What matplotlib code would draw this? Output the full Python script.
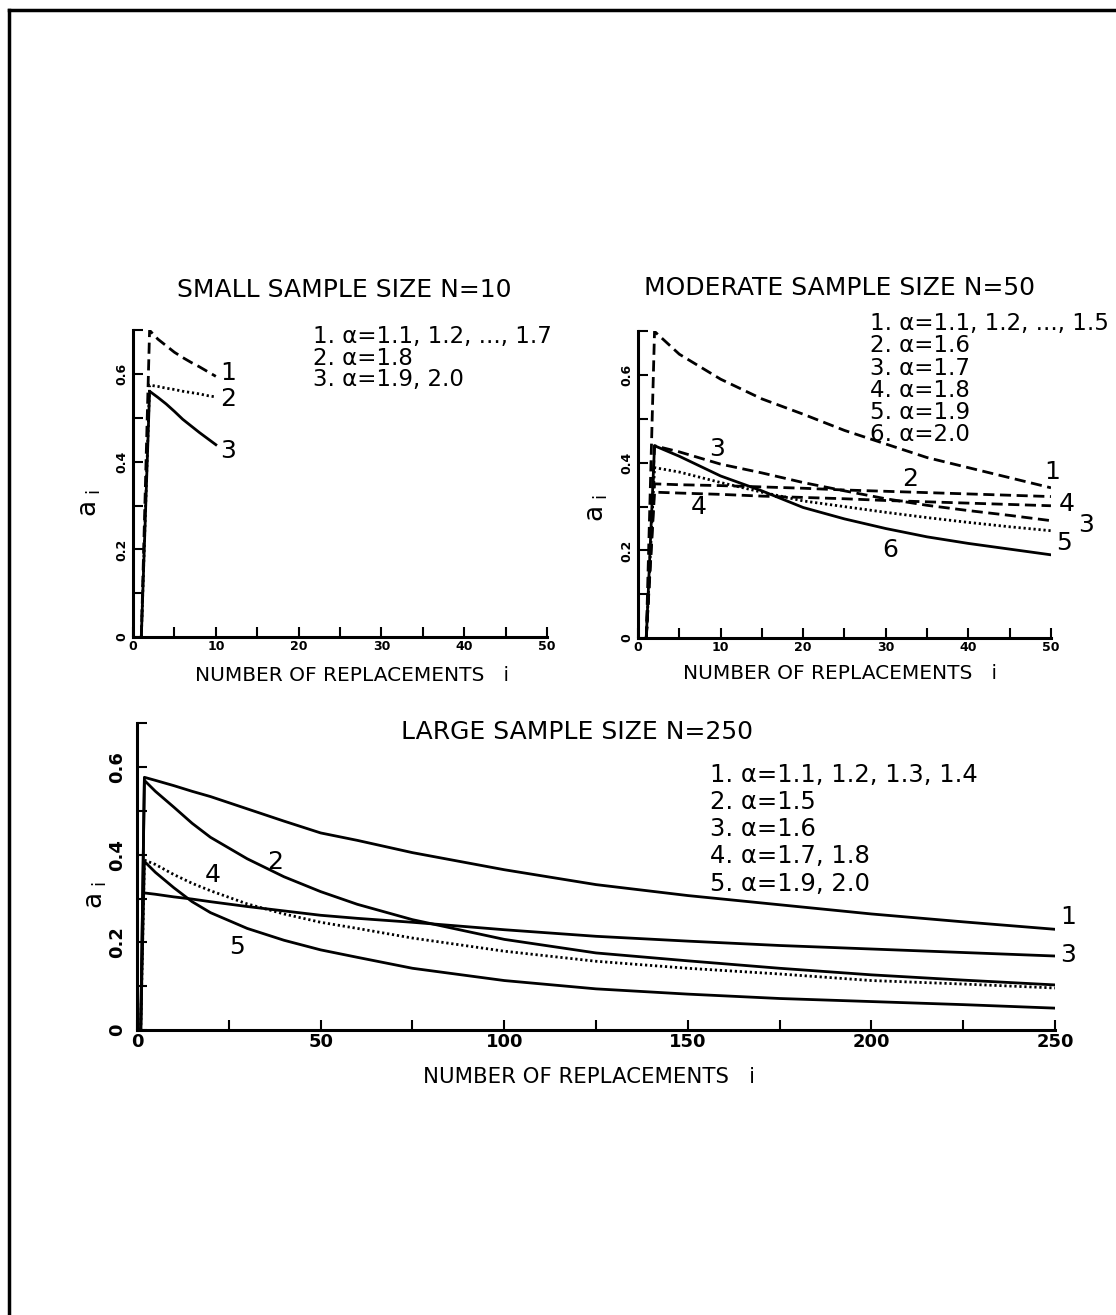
import numpy as np
import matplotlib
matplotlib.use("Agg")
import matplotlib.pyplot as plt
from matplotlib.lines import Line2D
from matplotlib.ticker import MultipleLocator, FuncFormatter

plt.rcParams["font.family"] = "DejaVu Sans"
plt.rcParams["mathtext.fontset"] = "dejavusans"

# ---- small sample, N = 10 ----
i_small = [1, 2, 3, 4, 5, 6, 7, 8, 9, 10]
small_1 = [0, 0.700, 0.680, 0.665, 0.650, 0.638, 0.627, 0.617, 0.606, 0.595]
small_2 = [0, 0.575, 0.572, 0.568, 0.565, 0.561, 0.558, 0.555, 0.551, 0.548]
small_3 = [0, 0.561, 0.547, 0.532, 0.515, 0.497, 0.482, 0.467, 0.453, 0.439]
small_legend = ["1. α=1.1, 1.2, ..., 1.7", "2. α=1.8", "3. α=1.9, 2.0"]

# ---- moderate sample, N = 50 ----
i_mod = [1, 2, 5, 10, 15, 20, 25, 30, 35, 40, 45, 50]
mod_1 = [0, 0.700, 0.648, 0.591, 0.546, 0.511, 0.474, 0.443, 0.412, 0.389, 0.366, 0.343]
mod_2 = [0, 0.352, 0.350, 0.348, 0.345, 0.342, 0.338, 0.335, 0.332, 0.329, 0.326, 0.323]
mod_3 = [0, 0.439, 0.425, 0.397, 0.377, 0.355, 0.336, 0.318, 0.303, 0.291, 0.280, 0.268]
mod_4 = [0, 0.333, 0.331, 0.328, 0.324, 0.321, 0.318, 0.314, 0.311, 0.308, 0.305, 0.302]
mod_5 = [0, 0.389, 0.379, 0.355, 0.333, 0.313, 0.300, 0.287, 0.275, 0.264, 0.254, 0.245]
mod_6 = [0, 0.439, 0.415, 0.370, 0.336, 0.298, 0.272, 0.250, 0.231, 0.216, 0.203, 0.190]
mod_legend = ["1. α=1.1, 1.2, ..., 1.5", "2. α=1.6", "3. α=1.7",
              "4. α=1.8", "5. α=1.9", "6. α=2.0"]

# ---- large sample, N = 250 ----
i_large = [1, 2, 5, 10, 15, 20, 30, 40, 50, 60, 75, 100, 125, 150, 175, 200, 225, 250]
large_1 = [0, 0.577, 0.570, 0.558, 0.545, 0.533, 0.505, 0.477, 0.450, 0.433, 0.405,
           0.366, 0.332, 0.307, 0.286, 0.265, 0.247, 0.230]
large_2 = [0, 0.570, 0.545, 0.509, 0.472, 0.440, 0.391, 0.350, 0.316, 0.287, 0.252,
           0.207, 0.176, 0.158, 0.141, 0.126, 0.114, 0.103]
large_3 = [np.nan, 0.313, 0.310, 0.304, 0.299, 0.293, 0.282, 0.272, 0.262, 0.255, 0.246,
           0.229, 0.214, 0.203, 0.193, 0.185, 0.177, 0.169]
large_4 = [0, 0.388, 0.378, 0.355, 0.335, 0.318, 0.288, 0.265, 0.246, 0.232, 0.210,
           0.180, 0.157, 0.141, 0.128, 0.113, 0.105, 0.096]
large_5 = [0, 0.385, 0.360, 0.325, 0.293, 0.268, 0.232, 0.205, 0.183, 0.166, 0.141,
           0.113, 0.094, 0.082, 0.072, 0.065, 0.058, 0.050]
large_legend = ["1. α=1.1, 1.2, 1.3, 1.4", "2. α=1.5", "3. α=1.6",
                "4. α=1.7, 1.8", "5. α=1.9, 2.0"]

DASH = (4, 2)
DOT = (0.8, 1.0)


def style_axes(ax, xmax, xmajor, xminor, labelsize, ypad):
    ax.set_xlim(0, xmax)
    ax.set_ylim(0, 0.701)
    for side in ["top", "right"]:
        ax.spines[side].set_visible(False)
    for side in ["left", "bottom"]:
        ax.spines[side].set_linewidth(2.2)
    ax.xaxis.set_major_locator(MultipleLocator(xmajor))
    ax.xaxis.set_minor_locator(MultipleLocator(xminor))
    ax.yaxis.set_major_locator(MultipleLocator(0.2))
    ax.yaxis.set_minor_locator(MultipleLocator(0.1))
    ax.yaxis.set_major_formatter(FuncFormatter(lambda v, p: "0" if v == 0 else f"{v:.1f}"))
    ax.tick_params(which="both", direction="in", length=7, width=1.5,
                   labelsize=labelsize)
    ax.tick_params(axis="x", pad=2)
    ax.tick_params(axis="y", labelrotation=90, pad=ypad)
    for lbl in ax.get_xticklabels():
        lbl.set_fontweight("bold")
    for lbl in ax.get_yticklabels():
        lbl.set_fontweight("bold")
        lbl.set_va("center")


def draw(ax, x, y, style):
    if style == "dash":
        ax.plot(x, y, color="k", lw=2, dashes=DASH)
    elif style == "dot":
        ax.plot(x, y, color="k", lw=2, dashes=DOT)
    else:
        ax.plot(x, y, color="k", lw=2)


def legend_block(ax, x, y_top, lines, size, spacing):
    ax.text(x, y_top, "\n".join(lines), transform=ax.transAxes, ha="left",
            va="top", fontsize=size, linespacing=spacing, clip_on=False)


fig = plt.figure(figsize=(11.16, 13.15), dpi=100)

# page frame (left and top edges)
fig.add_artist(Line2D([9 / 1116, 9 / 1116], [0, 1 - 10 / 1315],
                      transform=fig.transFigure, color="k", lw=2.5))
fig.add_artist(Line2D([9 / 1116, 1], [1 - 10 / 1315, 1 - 10 / 1315],
                      transform=fig.transFigure, color="k", lw=2.5))

# small sample panel
ax1 = fig.add_axes([0.1192, 0.5156, 0.371, 0.2335])
draw(ax1, i_small, small_1, "dash")
draw(ax1, i_small, small_2, "dot")
draw(ax1, i_small, small_3, "solid")
style_axes(ax1, 50, 10, 5, 9, 3)
ax1.text(0.51, 1.13, "SMALL SAMPLE SIZE N=10", transform=ax1.transAxes,
         ha="center", va="center", fontsize=18)
legend_block(ax1, 0.435, 1.016, small_legend, 16.5, 0.92)
for lab, yy in zip(["1", "2", "3"], [0.602, 0.543, 0.425]):
    ax1.text(11.5, yy, lab, ha="center", va="center", fontsize=18)
ax1.text(0.53, -0.124, "NUMBER OF REPLACEMENTS   i", transform=ax1.transAxes,
         ha="center", va="center", fontsize=14.5)
ax1.text(-0.104, 0.436, r"$\mathrm{a}_{\ \mathrm{i}}$", transform=ax1.transAxes,
         ha="center", va="center", fontsize=19, rotation=90)

# moderate sample panel
ax2 = fig.add_axes([0.5717, 0.5148, 0.370, 0.2335])
draw(ax2, i_mod, mod_1, "dash")
draw(ax2, i_mod, mod_2, "dash")
draw(ax2, i_mod, mod_3, "dash")
draw(ax2, i_mod, mod_4, "dash")
draw(ax2, i_mod, mod_5, "dot")
draw(ax2, i_mod, mod_6, "solid")
style_axes(ax2, 50, 10, 5, 9, 3)
ax2.text(0.487, 1.14, "MODERATE SAMPLE SIZE N=50", transform=ax2.transAxes,
         ha="center", va="center", fontsize=18)
legend_block(ax2, 0.562, 1.0616, mod_legend, 16.5, 0.96)
mod_tags = [("1", 50.1, 0.378), ("4", 51.9, 0.307), ("3", 54.3, 0.257),
            ("5", 51.6, 0.218), ("2", 32.9, 0.364), ("3", 9.6, 0.432),
            ("4", 7.3, 0.300), ("6", 30.5, 0.200)]
for lab, xx, yy in mod_tags:
    ax2.text(xx, yy, lab, ha="center", va="center", fontsize=18, clip_on=False)
ax2.text(0.49, -0.114, "NUMBER OF REPLACEMENTS   i", transform=ax2.transAxes,
         ha="center", va="center", fontsize=14.5)
ax2.text(-0.099, 0.423, r"$\mathrm{a}_{\ \mathrm{i}}$", transform=ax2.transAxes,
         ha="center", va="center", fontsize=19, rotation=90)

# large sample panel
ax3 = fig.add_axes([0.1228, 0.2167, 0.8226, 0.2335])
draw(ax3, i_large, large_1, "solid")
draw(ax3, i_large, large_2, "solid")
draw(ax3, i_large, large_3, "solid")
draw(ax3, i_large, large_4, "dot")
draw(ax3, i_large, large_5, "solid")
style_axes(ax3, 250, 50, 25, 13, 8)
ax3.text(0.479, 0.97, "LARGE SAMPLE SIZE N=250", transform=ax3.transAxes,
         ha="center", va="center", fontsize=18)
legend_block(ax3, 0.624, 0.871, large_legend, 17.5, 1.17)
large_tags = [("1", 253.5, 0.258), ("3", 253.5, 0.171), ("2", 37.6, 0.383),
              ("4", 20.7, 0.353), ("5", 27.2, 0.190)]
for lab, xx, yy in large_tags:
    ax3.text(xx, yy, lab, ha="center", va="center", fontsize=18, clip_on=False)
ax3.text(0.492, -0.153, "NUMBER OF REPLACEMENTS   i", transform=ax3.transAxes,
         ha="center", va="center", fontsize=15.3)
ax3.text(-0.0447, 0.44, r"$\mathrm{a}_{\ \mathrm{i}}$", transform=ax3.transAxes,
         ha="center", va="center", fontsize=19, rotation=90)

fig.savefig("out.png", dpi=100)
